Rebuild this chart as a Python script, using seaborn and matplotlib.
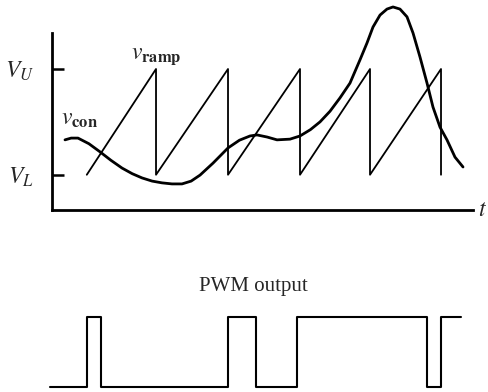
import matplotlib
matplotlib.use("Agg")
import matplotlib.pyplot as plt
import seaborn as sns

sns.set_theme(style="white")
plt.rcParams['font.family'] = ['Liberation Serif', 'DejaVu Serif']
plt.rcParams['mathtext.fontset'] = 'stix'

# ---- data ----
VL, VU = 1.0, 4.0
ramp_t = [0.49, 1.465, 1.465, 2.479, 2.479, 3.493, 3.493, 4.479, 4.479, 5.479, 5.479]
ramp_v = [VL, VU, VL, VU, VL, VU, VL, VU, VL, VU, VL]

con_t = [0.183, 0.27, 0.366, 0.52, 0.676, 0.83, 0.986, 1.13, 1.268, 1.41, 1.549, 1.69, 1.831,
         1.96, 2.085, 2.268, 2.479, 2.64, 2.789, 2.887, 3.03, 3.169, 3.352, 3.493, 3.64, 3.775,
         3.915, 4.056, 4.197, 4.338, 4.437, 4.521, 4.620, 4.718, 4.803, 4.901, 5.000, 5.085,
         5.183, 5.282, 5.366, 5.465, 5.563, 5.676, 5.789]
con_v = [1.99, 2.04, 2.04, 1.88, 1.65, 1.41, 1.19, 1.03, 0.91, 0.82, 0.77, 0.74, 0.74,
         0.82, 0.99, 1.33, 1.76, 1.98, 2.10, 2.13, 2.07, 1.99, 2.01, 2.10, 2.28, 2.50,
         2.80, 3.18, 3.60, 4.26, 4.74, 5.19, 5.53, 5.70, 5.76, 5.70, 5.48, 5.02,
         4.34, 3.60, 2.92, 2.35, 1.99, 1.50, 1.22]

pwm_t = [-0.03, 0.49, 0.69, 2.479, 2.873, 3.451, 5.282, 5.479, 5.761]
pwm_level = [0, 1, 0, 1, 0, 1, 0, 1, 1]

W, H = 489, 392
fig = plt.figure(figsize=(W / 100, H / 100), dpi=100)

# top axes: origin at pixel (52,210), 71 px per time unit, 35.25 px per volt unit
x0, x1 = 52, 473
tmax = (x1 - x0) / 71.0
vtop = 5.9
ax = fig.add_axes([x0 / W, (H - 210) / H, (x1 - x0) / W, vtop * 35.25 / H])
ax.set_xlim(0, tmax)
ax.set_ylim(0, vtop)
ax.patch.set_alpha(0)

sns.lineplot(x=ramp_t, y=ramp_v, sort=False, estimator=None, color='black', lw=1.3, ax=ax)
sns.lineplot(x=con_t, y=con_v, sort=False, estimator=None, color='black', lw=2.0, ax=ax)
for l in ax.lines:
    l.set_clip_on(False)
    l.set_solid_joinstyle('round')
    l.set_solid_capstyle('round')

for s in ['top', 'right']:
    ax.spines[s].set_visible(False)
for s in ['left', 'bottom']:
    ax.spines[s].set_color('black')
    ax.spines[s].set_linewidth(2.0)
ax.spines['left'].set_bounds(0, 5.02)
ax.set_xticks([])
ax.set_yticks([VL, VU])
ax.set_yticklabels([r'$V_L$', r'$V_U$'], fontsize=17)
ax.tick_params(axis='y', direction='in', length=8.5, width=1.8, color='black', pad=13, left=True)

ax.text(tmax + 0.13, 0, r'$t$', fontsize=17, ha='center', va='center')
ax.text((80 - x0) / 71, (210 - 120) / 35.25, r'$v_{\mathbf{con}}$', fontsize=17, ha='center', va='center')
ax.text((156 - x0) / 71, (210 - 57) / 35.25, r'$v_{\mathbf{ramp}}$', fontsize=17, ha='center', va='center')

# bottom PWM axes
axb = fig.add_axes([x0 / W, 0, (x1 - x0) / W, 92 / H])
axb.set_xlim(0, tmax)
axb.set_ylim(-5 / 70, 87 / 70)
axb.axis('off')
sns.lineplot(x=pwm_t, y=pwm_level, sort=False, estimator=None, color='black', lw=1.5,
             drawstyle='steps-post', ax=axb)
for l in axb.lines:
    l.set_clip_on(False)

fig.text(253 / W, (H - 287) / H, 'PWM output', fontsize=15, ha='center', va='center')

fig.savefig('out.png', dpi=100, facecolor='white')
